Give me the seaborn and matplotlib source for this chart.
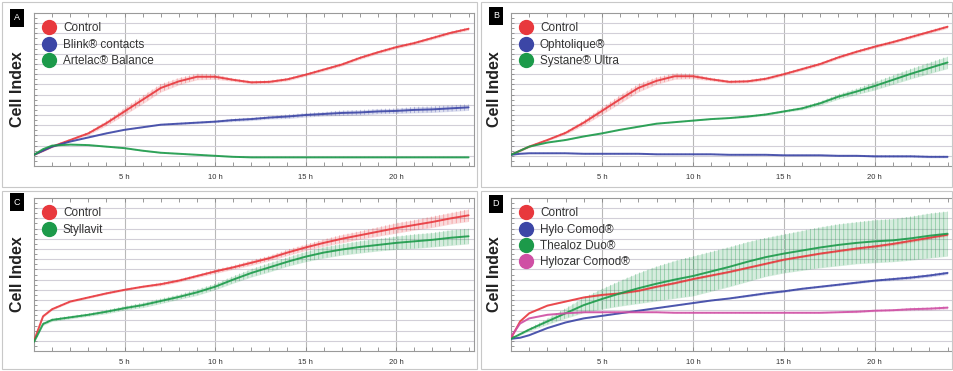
import numpy as np
import pandas as pd
import matplotlib
matplotlib.use("Agg")
import matplotlib.pyplot as plt
from matplotlib.lines import Line2D
from matplotlib.patches import Rectangle
import seaborn as sns

# time points (hours)
time_h = [0, 0.5, 1, 2, 3, 4, 5, 6, 7, 8, 9, 10, 11, 12, 13, 14, 15, 16, 17, 18, 19, 20, 21, 22, 23, 24]

# Panel A
a_control = [0.22, 0.30, 0.38, 0.51, 0.64, 0.84, 1.07, 1.30, 1.53, 1.66, 1.75, 1.75, 1.69, 1.64, 1.65, 1.70,
             1.79, 1.89, 1.99, 2.12, 2.23, 2.33, 2.41, 2.51, 2.61, 2.69]
a_control_sd = [0.01, 0.02, 0.02, 0.02, 0.03, 0.05, 0.07, 0.08, 0.08, 0.07, 0.06, 0.05, 0.03, 0.03, 0.03, 0.03,
                0.03, 0.03, 0.03, 0.03, 0.03, 0.03, 0.03, 0.03, 0.03, 0.03]
a_blink = [0.22, 0.30, 0.38, 0.48, 0.56, 0.64, 0.71, 0.76, 0.81, 0.83, 0.85, 0.87, 0.90, 0.92, 0.95, 0.97,
           1.00, 1.02, 1.04, 1.05, 1.07, 1.08, 1.10, 1.11, 1.13, 1.15]
a_blink_sd = [0.01, 0.01, 0.01, 0.01, 0.01, 0.01, 0.01, 0.01, 0.01, 0.02, 0.02, 0.02, 0.03, 0.03, 0.03, 0.04,
              0.04, 0.04, 0.05, 0.05, 0.05, 0.05, 0.06, 0.06, 0.06, 0.06]
a_artelac = [0.22, 0.33, 0.40, 0.42, 0.41, 0.38, 0.35, 0.30, 0.26, 0.24, 0.22, 0.20, 0.18, 0.17, 0.17, 0.17,
             0.17, 0.17, 0.17, 0.17, 0.17, 0.17, 0.17, 0.17, 0.17, 0.17]
a_artelac_sd = [0.01] * 26

# Panel B
b_control = [0.22, 0.30, 0.38, 0.51, 0.65, 0.85, 1.08, 1.31, 1.53, 1.67, 1.76, 1.76, 1.70, 1.65, 1.66, 1.71,
             1.80, 1.90, 2.00, 2.13, 2.24, 2.34, 2.43, 2.53, 2.63, 2.73]
b_control_sd = a_control_sd
b_ophtolique = [0.22, 0.24, 0.25, 0.25, 0.25, 0.24, 0.24, 0.24, 0.24, 0.23, 0.23, 0.23, 0.23, 0.22, 0.22, 0.22,
                0.21, 0.21, 0.21, 0.20, 0.20, 0.19, 0.19, 0.19, 0.18, 0.18]
b_ophtolique_sd = [0.01] * 21 + [0.02] * 5
b_systane = [0.22, 0.30, 0.38, 0.46, 0.51, 0.58, 0.64, 0.71, 0.77, 0.83, 0.86, 0.89, 0.92, 0.94, 0.97, 1.01,
             1.07, 1.13, 1.23, 1.36, 1.46, 1.57, 1.69, 1.81, 1.92, 2.03]
b_systane_sd = [0.01, 0.01, 0.01, 0.01, 0.01, 0.01, 0.01, 0.01, 0.01, 0.01, 0.01, 0.01, 0.01, 0.01, 0.02, 0.02,
                0.02, 0.03, 0.04, 0.05, 0.06, 0.08, 0.09, 0.10, 0.11, 0.12]

# Panel C
c_control = [0.20, 0.68, 0.82, 0.97, 1.05, 1.13, 1.20, 1.26, 1.31, 1.38, 1.47, 1.56, 1.64, 1.73, 1.82, 1.93,
             2.03, 2.12, 2.20, 2.27, 2.34, 2.41, 2.47, 2.53, 2.60, 2.66]
c_control_sd = [0.02, 0.02, 0.02, 0.02, 0.02, 0.02, 0.02, 0.02, 0.03, 0.03, 0.03, 0.04, 0.04, 0.05, 0.05, 0.06,
                0.06, 0.07, 0.08, 0.08, 0.09, 0.10, 0.10, 0.11, 0.11, 0.12]
c_styllavit = [0.18, 0.53, 0.61, 0.66, 0.71, 0.77, 0.84, 0.90, 0.98, 1.06, 1.15, 1.26, 1.40, 1.53, 1.64, 1.75,
               1.85, 1.93, 1.99, 2.04, 2.08, 2.12, 2.15, 2.18, 2.22, 2.25]
c_styllavit_sd = [0.02, 0.03, 0.03, 0.03, 0.03, 0.04, 0.04, 0.05, 0.05, 0.05, 0.06, 0.06, 0.07, 0.08, 0.09, 0.09,
                  0.10, 0.11, 0.11, 0.12, 0.12, 0.13, 0.14, 0.14, 0.15, 0.15]

# Panel D
d_control = [0.25, 0.58, 0.74, 0.89, 0.97, 1.05, 1.10, 1.13, 1.18, 1.26, 1.33, 1.41, 1.48, 1.55, 1.63, 1.71,
             1.79, 1.85, 1.91, 1.96, 2.01, 2.05, 2.10, 2.16, 2.22, 2.28]
d_control_sd = [0.01] * 6 + [0.02] * 14 + [0.03] * 6
d_hylo = [0.24, 0.26, 0.31, 0.45, 0.56, 0.64, 0.69, 0.74, 0.79, 0.84, 0.89, 0.94, 0.99, 1.03, 1.08, 1.13,
          1.17, 1.22, 1.26, 1.30, 1.34, 1.38, 1.41, 1.44, 1.48, 1.53]
d_hylo_sd = [0.01] * 14 + [0.02] * 8 + [0.03] * 4
d_thealoz = [0.24, 0.33, 0.42, 0.58, 0.74, 0.90, 1.02, 1.13, 1.23, 1.32, 1.40, 1.47, 1.56, 1.65, 1.75, 1.84,
             1.91, 1.97, 2.03, 2.08, 2.12, 2.15, 2.17, 2.21, 2.26, 2.30]
d_thealoz_sd = [0.02, 0.02, 0.03, 0.06, 0.10, 0.15, 0.20, 0.25, 0.30, 0.34, 0.37, 0.39, 0.39, 0.39, 0.39, 0.38,
                0.38, 0.39, 0.40, 0.41, 0.41, 0.42, 0.42, 0.43, 0.44, 0.44]
d_hylozar = [0.28, 0.54, 0.64, 0.71, 0.74, 0.76, 0.76, 0.76, 0.76, 0.76, 0.75, 0.75, 0.75, 0.75, 0.75, 0.75,
             0.75, 0.75, 0.75, 0.76, 0.77, 0.79, 0.80, 0.82, 0.83, 0.85]
d_hylozar_sd = [0.01] * 20 + [0.02] * 3 + [0.03] * 3

RED, BLUE, GREEN, PINK = "#e8383d", "#3c46a6", "#1c9a4a", "#cf4fa4"

panels = [
    ("A", [("Control", a_control, a_control_sd, RED),
           ("Blink\u00ae contacts", a_blink, a_blink_sd, BLUE),
           ("Artelac\u00ae Balance", a_artelac, a_artelac_sd, GREEN)]),
    ("B", [("Control", b_control, b_control_sd, RED),
           ("Ophtolique\u00ae", b_ophtolique, b_ophtolique_sd, BLUE),
           ("Systane\u00ae Ultra", b_systane, b_systane_sd, GREEN)]),
    ("C", [("Control", c_control, c_control_sd, RED),
           ("Styllavit", c_styllavit, c_styllavit_sd, GREEN)]),
    ("D", [("Control", d_control, d_control_sd, RED),
           ("Hylo Comod\u00ae", d_hylo, d_hylo_sd, BLUE),
           ("Thealoz Duo\u00ae", d_thealoz, d_thealoz_sd, GREEN),
           ("Hylozar Comod\u00ae", d_hylozar, d_hylozar_sd, PINK)]),
]

sns.set_theme(style="white")
plt.rcParams["font.family"] = ["Liberation Sans", "DejaVu Sans"]
plt.rcParams["hatch.linewidth"] = 0.5

W, H = 954, 371
fig = plt.figure(figsize=(W / 100, H / 100), dpi=100)

# axes boxes in pixels: left, top, right, bottom
boxes = {"A": (34, 13, 474, 166), "B": (511, 13, 953, 166),
         "C": (34, 198, 474, 351), "D": (511, 198, 953, 351)}
frames = {"A": (2, 2, 477, 187), "B": (481, 2, 952, 187),
          "C": (2, 191, 477, 369), "D": (481, 191, 952, 369)}
letters = {"A": (17, 18), "B": (496, 16), "C": (17, 202), "D": (496, 204)}

for key, series in panels:
    l, t, r, b = frames[key]
    fig.patches.append(Rectangle((l / W, 1 - b / H), (r - l) / W, (b - t) / H, transform=fig.transFigure,
                                 fill=False, edgecolor="#c8c8c8", linewidth=0.8))
    l, t, r, b = boxes[key]
    ax = fig.add_axes([l / W, 1 - b / H, (r - l) / W, (b - t) / H])

    rows = []
    for name, vals, sd, col in series:
        rows.append(pd.DataFrame({"time": time_h, "ci": vals, "sd": sd, "series": name}))
    df = pd.concat(rows, ignore_index=True)
    palette = {name: col for name, _, _, col in series}

    # error bars as hatched band
    for name, vals, sd, col in series:
        sub = df[df["series"] == name]
        ax.fill_between(sub["time"], sub["ci"] - sub["sd"], sub["ci"] + sub["sd"],
                        facecolor=col, alpha=0.18, linewidth=0, zorder=2)
        ax.fill_between(sub["time"], sub["ci"] - sub["sd"], sub["ci"] + sub["sd"],
                        facecolor="none", edgecolor=col, alpha=0.45, hatch="||||", linewidth=0, zorder=2)

    sns.lineplot(data=df, x="time", y="ci", hue="series", palette=palette, ax=ax,
                 legend=False, errorbar=None, linewidth=1.4, alpha=0.9, zorder=3)

    ax.set_xlim(0, 24.3)
    ax.set_ylim(0, 3)
    ax.set_xticks([5, 10, 15, 20])
    ax.set_xticklabels(["5 h", "10 h", "15 h", "20 h"], fontsize=5.5, color="#333333")
    ax.set_xticks(np.arange(1, 25), minor=True)
    ax.set_yticks(np.arange(0.2, 3.0, 0.2))
    ax.set_yticks(np.arange(0.1, 3.0, 0.2), minor=True)
    ax.set_yticklabels([])
    ax.tick_params(axis="x", which="both", direction="in", length=3, width=0.6, color="#888888",
                   top=True, bottom=True, pad=6)
    ax.tick_params(axis="y", which="both", direction="in", length=2, width=0.6, color="#888888",
                   left=True)
    ax.grid(axis="y", color="#d2cfd8", linewidth=0.8)
    ax.grid(axis="x", color="#b8b8b8", linewidth=0.8)
    for sp in ax.spines.values():
        sp.set_color("#9a9a9a")
        sp.set_linewidth(0.8)
    ax.set_xlabel("")
    ax.set_ylabel("Cell Index", fontsize=11.5, fontweight="bold", color="#222222", labelpad=3)

    handles = [Line2D([], [], marker="o", linestyle="", markersize=10, color=col)
               for _, _, _, col in series]
    ax.legend(handles, [s[0] for s in series], loc="upper left", frameon=False, fontsize=8.5,
              handlelength=0.9, handletextpad=0.75, borderaxespad=0.3, labelspacing=0.36,
              borderpad=0.5, labelcolor="#333333")

    lx, ly = letters[key]
    fig.text(lx / W, 1 - ly / H, key, fontsize=6.5, color="white", ha="center", va="center",
             bbox=dict(boxstyle="square,pad=0.45", facecolor="black", edgecolor="none"))

fig.savefig("out.png", dpi=100)
